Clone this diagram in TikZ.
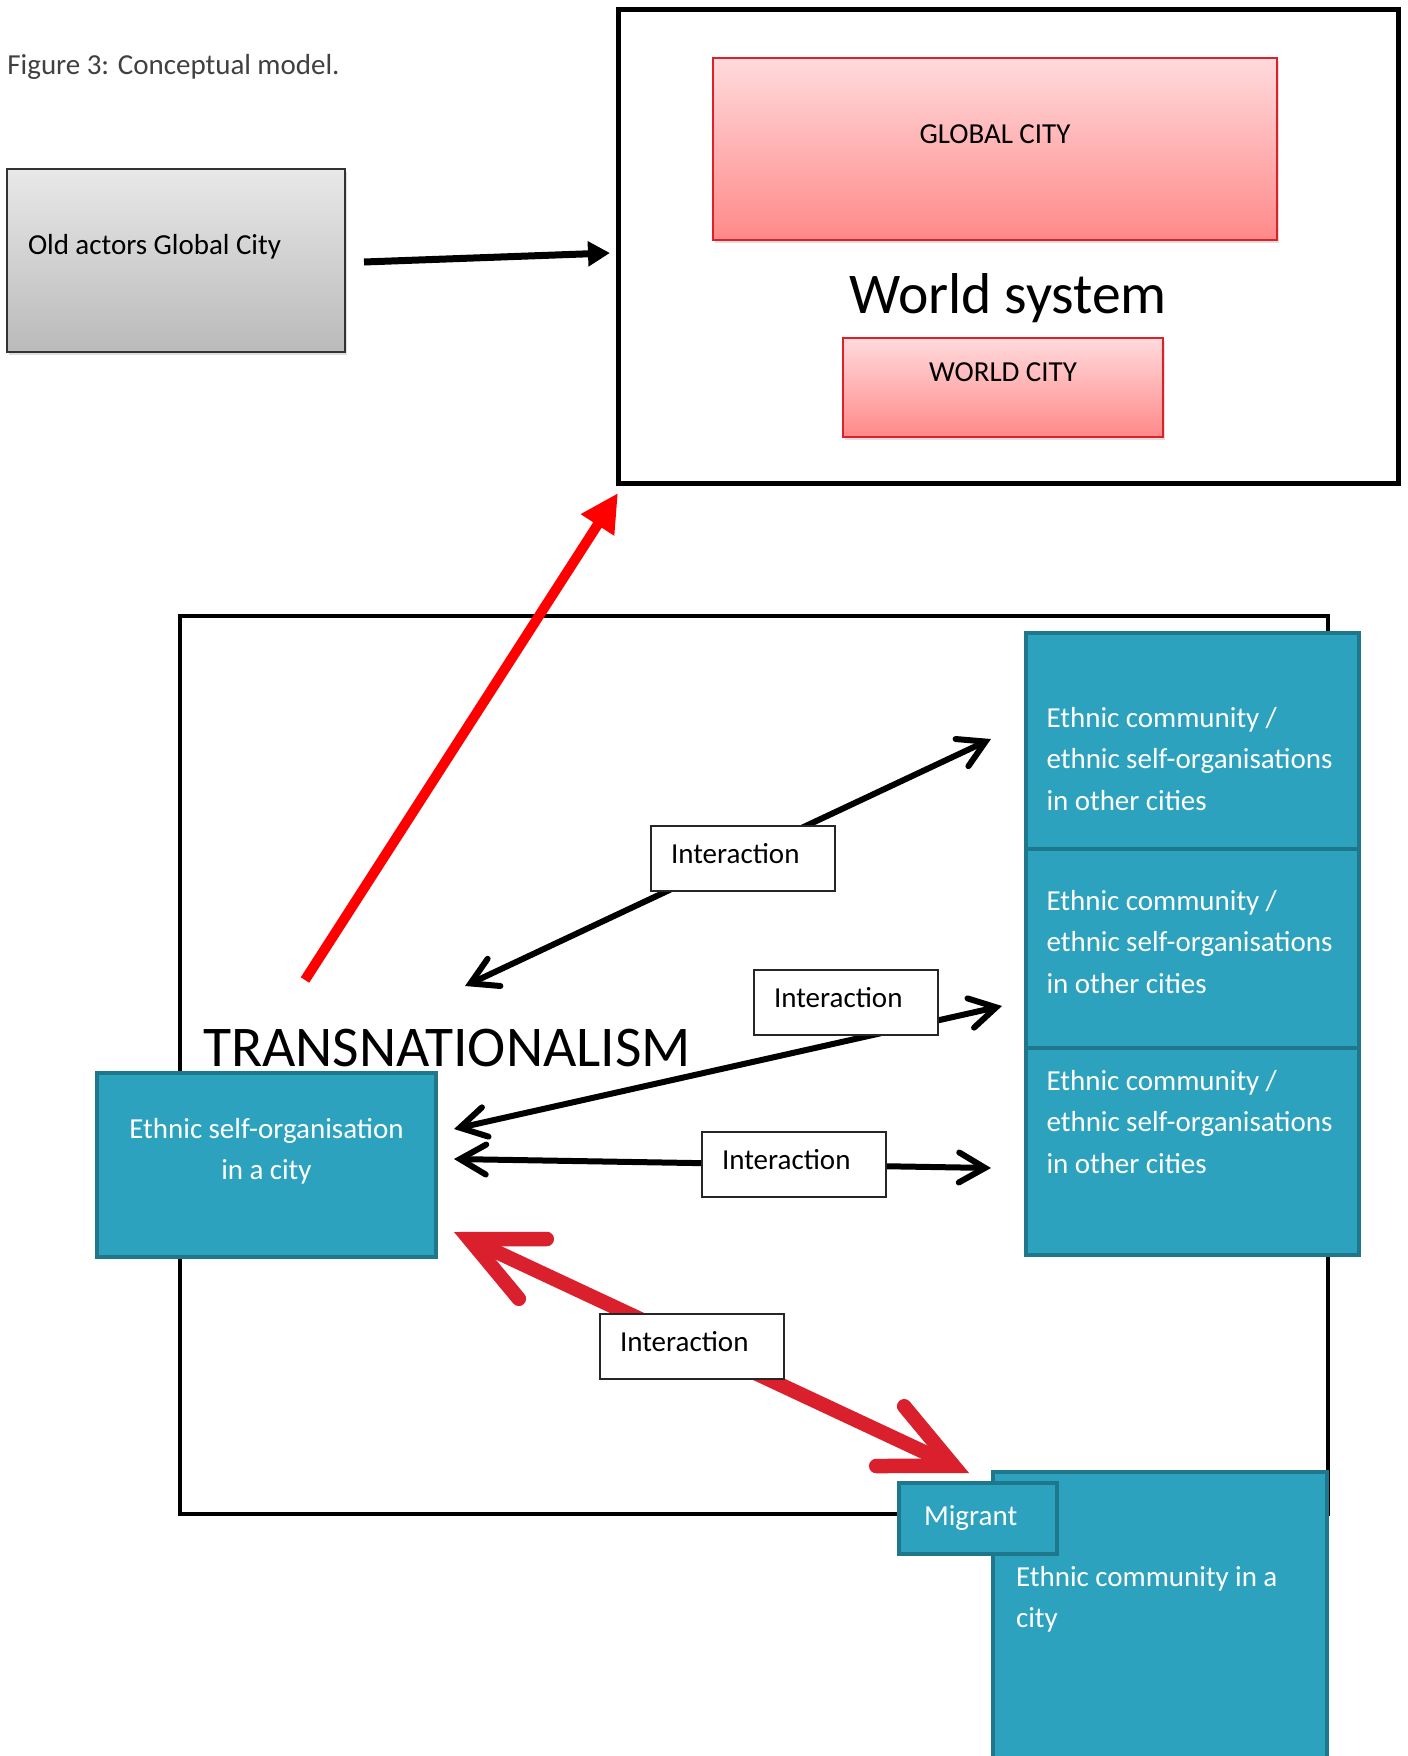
\documentclass[tikz,border=0pt]{standalone}
\usepackage{fontspec}
\setmainfont{Carlito}[WordSpace=0.8]
\usepackage{tikz}
\usetikzlibrary{arrows.meta}
\usetikzlibrary{positioning}
\usetikzlibrary{shadows}
\definecolor{tealfill}{RGB}{44,162,190}
\definecolor{tealline}{RGB}{31,119,140}
\definecolor{pinktop}{RGB}{255,218,220}
\definecolor{pinkbot}{RGB}{255,137,137}
\definecolor{cityred}{RGB}{222,32,40}
\definecolor{arrowred}{RGB}{218,31,45}
\tikzstyle{teal box}=[draw=tealline,fill=tealfill,line width=2.3pt,text=white,inner ysep=0pt,outer sep=0pt,anchor=north west]
\tikzstyle{tag box}=[draw=black!85,fill=white,line width=0.6pt,inner xsep=10pt,inner ysep=0pt,outer sep=0pt,text width=72pt,align=left,text height=18.5pt,text depth=14pt,anchor=north west]

\begin{document}
\begin{tikzpicture}[
  x=0.5pt,y=-0.5pt,
  every node/.style={font={\fontsize{14.5}{20.9}\selectfont},
    execute at begin node={\spaceskip=0.22em\relax}},
  city box/.style={draw=cityred,line width=1pt,top color=pinktop,bottom color=pinkbot,
    drop shadow={shadow xshift=1pt,shadow yshift=-1.5pt,opacity=0.25},
    inner sep=0pt,outer sep=0pt,anchor=north west},
  frame/.style={draw=black,fill=white,inner sep=0pt,outer sep=0pt,anchor=north west},
  big title/.style={font={\fontsize{28.8}{34}\selectfont}},
  black link/.style={line width=3pt,
    {Straight Barb[length=13pt,width=15pt,line cap=round,line join=miter]}-{Straight Barb[length=13pt,width=15pt,line cap=round,line join=miter]}},
  red link/.style={line width=7.25pt,draw=arrowred,
    {Straight Barb[length=35pt,width=33pt,line cap=round,line join=miter]}-{Straight Barb[length=35pt,width=33pt,line cap=round,line join=miter]}},
]
\useasboundingbox (0,0) rectangle (1408,1756);

% top half
\node[anchor=base west,inner sep=0pt,text=black!75] (caption) at (7,74) {Figure 3: Conceptual model.};
\node[draw=black!80,line width=1pt,top color=black!9,bottom color=black!27,
  drop shadow={shadow xshift=1pt,shadow yshift=-1.5pt,opacity=0.25},
  anchor=north west,inner xsep=10.5pt,inner ysep=0pt,outer sep=0pt,
  text width=148pt,align=left,text height=42.5pt,text depth=49pt] (old) at (7,169) {Old actors Global City};
\node[frame,line width=2.5pt,big title,minimum width=390pt,text height=152pt,text depth=85pt] (world) at (618,9) {World system};
\node[city box,minimum width=282pt,text height=42.5pt,text depth=48.5pt] (global) at (713,58) {GLOBAL CITY};
\node[city box,minimum width=160pt,text height=21.5pt,text depth=28pt] (worldcity) at (843,338) {WORLD CITY};
\draw[line width=3.5pt,-{Triangle[length=11pt,width=12pt]}] ([xshift=9.5pt,yshift=-0.75pt]old.east) -- ([xshift=-4pt,yshift=-3.5pt]world.west);

% transnationalism frame
\node[frame,line width=2pt,big title,text width=551pt,align=left,inner xsep=11.5pt,text height=225pt,text depth=224pt] (trans) at (180,616) {TRANSNATIONALISM};
\coordinate (rise) at (305,980);
\draw[red,line width=5pt,-{Triangle[length=19pt,width=18.5pt]}] (rise) -- ([yshift=-5pt]world.south west);

\node[teal box,text width=155pt,align=center,inner xsep=7.25pt,text height=32.5pt,text depth=59.5pt] (eso) at (97,1073) {Ethnic self-organisation\\in a city};
\node[teal box,text width=146pt,align=left,inner xsep=10.25pt,text height=47pt,text depth=61pt] (otherA) at (1026,633) {Ethnic community /\\ethnic self-organisations\\in other cities};
\node[teal box,text width=146pt,align=left,inner xsep=10.25pt,text height=30.5pt,text depth=69pt,below=0pt of otherA] (otherB) {Ethnic community /\\ethnic self-organisations\\in other cities};
\node[teal box,text width=146pt,align=left,inner xsep=10.25pt,text height=21pt,text depth=82.5pt,below=0pt of otherB] (otherC) {Ethnic community /\\ethnic self-organisations\\in other cities};

\coordinate (upper end) at (465,986);
\draw[black link] (upper end) -- ([xshift=-17.5pt,yshift=1pt]otherA.west);
\draw[black link] ([xshift=9pt,yshift=18pt]eso.east) -- ([xshift=-12pt,yshift=21pt]otherB.south west);
\draw[black link] ([xshift=9pt,yshift=3pt]eso.east) -- ([xshift=-17.5pt,yshift=-8.25pt]otherC.west);
\node[tag box] (tagA) at (651,826) {Interaction};
\node[tag box] (tagB) at (754,970) {Interaction};
\node[tag box] (tagC) at (702,1132) {Interaction};

% migrant part
\node[teal box,text width=144pt,align=left,inner xsep=11.5pt,text height=57pt,text depth=102pt] (community) at (993,1472) {Ethnic community in a\\city};
\node[teal box,text width=54pt,align=left,inner xsep=12.5pt,text height=21pt,text depth=14.5pt] (migrant) at (899,1483) {Migrant};
\draw[red link] ([xshift=9pt,yshift=12.5pt]eso.south east) -- ([xshift=-4.5pt,yshift=5pt]migrant.north);
\node[tag box] (tagD) at (600,1314) {Interaction};
\end{tikzpicture}
\end{document}
